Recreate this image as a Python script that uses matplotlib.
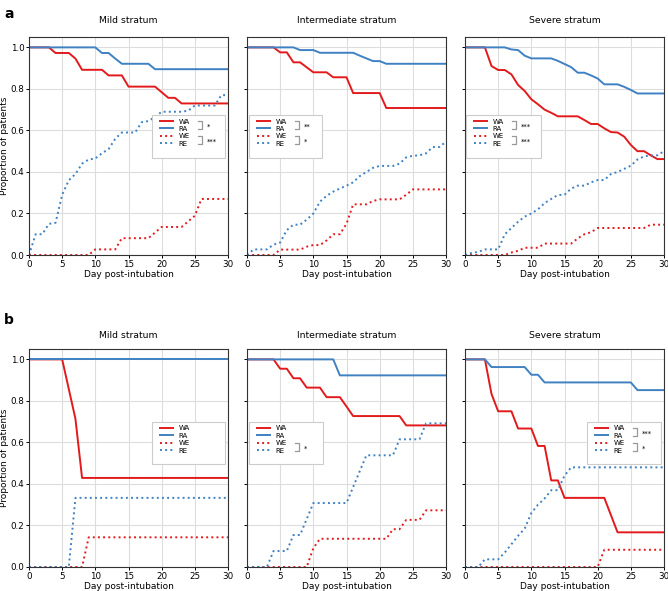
import matplotlib
matplotlib.use("Agg")
import matplotlib.pyplot as plt
from matplotlib.lines import Line2D
from matplotlib.patches import Rectangle

# day axis
days = list(range(31))

# --- panel a: mild ---
a_mild_wa = [1, 1, 1, 1, .973, .973, .973, .946, .892, .892, .892, .892, .865, .865, .865, .811,
             .811, .811, .811, .811, .784, .757, .757, .730, .730, .730, .730, .730, .730, .730, .730]
a_mild_ra = [1] * 11 + [.973, .973, .946] + [.921] * 5 + [.895] * 12
a_mild_we = [0] * 10 + [.027] * 4 + [.081] * 5 + [.108] + [.135] * 4 + [.162, .189] + [.270] * 5
a_mild_re = [0, .10, .10, .15, .155, .29, .36, .39, .44, .46, .465, .49, .51, .56, .59, .59,
             .59, .64, .645, .665, .69, .69, .69, .69, .695, .72, .72, .72, .72, .77, .77]

# --- panel a: intermediate ---
a_int_wa = [1] * 5 + [.976, .976, .928, .928, .904, .88, .88, .88, .856, .856, .856] + [.78] * 5 + [.708] * 10
a_int_ra = [1] * 8 + [.987] * 3 + [.974] * 6 + [.96, .947, .934, .934] + [.921] * 10
a_int_we = [0] * 5 + [.026] * 4 + [.04, .048, .048, .07, .10, .10, .15] + [.244] * 3 + [.26] + [.268] * 4 + [.29] + [.316] * 6
a_int_re = [0, .027, .027, .027, .05, .06, .12, .146, .146, .17, .20, .257, .285, .305, .32, .334,
            .35, .38, .40, .42, .429, .429, .429, .44, .47, .478, .48, .49, .52, .52, .546]

# --- panel a: severe ---
a_sev_wa = [1, 1, 1, 1, .91, .891, .891, .87, .819, .79, .75, .726, .70, .685, .668, .668,
            .668, .668, .65, .631, .631, .61, .592, .59, .57, .53, .50, .50, .48, .462, .462]
a_sev_ra = [1] * 7 + [.99, .987, .96, .947, .947, .947, .947, .935, .92, .905, .878, .878, .865,
                      .85, .822, .822, .822, .81, .795, .778] + [.778] * 4
a_sev_we = [0] * 7 + [.012, .02, .035, .035, .035, .055, .055, .055, .055, .055, .08, .10, .11, .13] + [.13] * 7 + [.146] * 3
a_sev_re = [0, .01, .015, .027, .027, .027, .10, .13, .16, .185, .20, .22, .25, .27, .289, .29,
            .32, .334, .334, .35, .361, .361, .39, .40, .415, .43, .46, .475, .48, .48, .50]

# --- panel b: mild ---
b_mild_wa = [1] * 6 + [.857, .714] + [.429] * 23
b_mild_ra = [1] * 31
b_mild_we = [0] * 9 + [.143] * 22
b_mild_re = [0] * 7 + [.333] * 24

# --- panel b: intermediate ---
b_int_wa = [1] * 5 + [.955, .955, .909, .909, .864, .864, .864, .818, .818, .818, .773] + [.727] * 8 + [.682] * 7
b_int_ra = [1] * 14 + [.923] * 17
b_int_we = [0] * 10 + [.091] + [.136] * 11 + [.182] * 2 + [.227] * 3 + [.273] * 4
b_int_re = [0] * 4 + [.077] * 3 + [.154] * 2 + [.231] + [.308] * 6 + [.385, .462] + [.538] * 5 + [.615] * 4 + [.692] * 4

# --- panel b: severe ---
b_sev_wa = [1] * 4 + [.833] + [.75] * 3 + [.667] * 3 + [.583] * 2 + [.417] * 2 + [.333] * 7 + [.25] + [.167] * 8
b_sev_ra = [1] * 4 + [.963] * 6 + [.926] * 2 + [.889] * 14 + [.852] * 5
b_sev_we = [0] * 21 + [.083] * 10
b_sev_re = [0] * 3 + [.037] * 3 + [.07, .11, .15, .185, .26, .30, .33, .37, .37, .44] + [.48] * 15

series_names = ["WA", "RA", "WE", "RE"]
strata = ["Mild stratum", "Intermediate stratum", "Severe stratum"]

# significance marks for (WA vs RA, WE vs RE), None = not shown
a_sig = [("*", "***"), ("**", "*"), ("***", "***")]
b_sig = [(None, None), (None, "*"), ("***", "*")]

RED = "#e31a1c"
BLUE = "#3f81c2"
styles = [(RED, "-"), (BLUE, "-"), (RED, ":"), (BLUE, ":")]

panels_a = [[a_mild_wa, a_mild_ra, a_mild_we, a_mild_re],
            [a_int_wa, a_int_ra, a_int_we, a_int_re],
            [a_sev_wa, a_sev_ra, a_sev_we, a_sev_re]]
panels_b = [[b_mild_wa, b_mild_ra, b_mild_we, b_mild_re],
            [b_int_wa, b_int_ra, b_int_we, b_int_re],
            [b_sev_wa, b_sev_ra, b_sev_we, b_sev_re]]

# figure layout in pixels
W, H = 668, 591
lefts = [29, 247, 465]
axw, axh = 199, 218
row_tops = [37, 349]

# legend frames in pixels relative to axes left / axes top: x0, x1, top, bottom
a_leg = [(123, 196, 78, 121), (2, 75, 78, 121), (1, 76, 78, 121)]
b_leg = [(123, 196, 73, 115), (2, 76, 73, 115), (122, 196, 73, 115)]

fig = plt.figure(figsize=(W / 100, H / 100), dpi=100)

legends = []
for r, (panels, legpos, sigs) in enumerate([(panels_a, a_leg, a_sig), (panels_b, b_leg, b_sig)]):
    for c in range(3):
        ax = fig.add_axes([lefts[c] / W, 1 - (row_tops[r] + axh) / H, axw / W, axh / H])
        for vals, name, (col, ls) in zip(panels[c], series_names, styles):
            ax.plot(days, vals, color=col, ls=ls, lw=1.4, label=name)
        ax.set_xlim(0, 30)
        ax.set_ylim(0, 1.05)
        ax.set_xticks([0, 5, 10, 15, 20, 25, 30])
        ax.set_yticks([0, 0.2, 0.4, 0.6, 0.8, 1.0])
        ax.grid(True, color="#dddddd", lw=0.8)
        ax.set_axisbelow(True)
        ax.tick_params(labelsize=6.3, length=2.5, width=0.7, pad=0.8)
        for sp in ax.spines.values():
            sp.set_color("#333333")
            sp.set_linewidth(0.8)
        if c == 0:
            ax.set_ylabel("Proportion of patients", fontsize=6.5, labelpad=1)
        else:
            ax.set_yticklabels([])
        ax.set_xlabel("Day post-intubation", fontsize=6.5, labelpad=1)
        ax.set_title(strata[c], fontsize=6.7, pad=10 if r == 0 else 8)

        # legend frame drawn by hand so it can hold the brackets
        x0, x1, top, bot = legpos[c]
        ax.add_patch(Rectangle((x0 / axw, 1 - bot / axh), (x1 - x0) / axw, (bot - top) / axh,
                               transform=ax.transAxes, facecolor="white", edgecolor="#cccccc",
                               lw=0.8, zorder=4, clip_on=False))
        leg = ax.legend(loc="upper left", bbox_to_anchor=((x0 + 8) / axw, 1 - (top + 3.5) / axh),
                        borderaxespad=0, borderpad=0, fontsize=5, labelspacing=0.2,
                        handlelength=1.9, handletextpad=0.8, frameon=False)
        leg.set_zorder(5)
        legends.append((ax, leg, sigs[c], x0))

fig.text(0.006, 0.988, "a", fontsize=10, fontweight="bold", va="top")
fig.text(0.006, 1 - 313 / H, "b", fontsize=10, fontweight="bold", va="top")

# brackets with significance stars inside the legend frames
fig.canvas.draw()
inv = fig.transFigure.inverted()
for ax, leg, sig, x0 in legends:
    axbox = ax.get_window_extent()
    ys = [t.get_window_extent().y0 + t.get_window_extent().height / 2 for t in leg.get_texts()]
    xb = axbox.x0 + x0 + 50
    for k, mark in enumerate(sig):
        if mark is None:
            continue
        ytop = ys[2 * k] + 0.5
        ybot = ys[2 * k + 1] - 0.5
        pts = inv.transform([(xb - 4.5, ytop), (xb, ytop), (xb, ybot), (xb - 4.5, ybot)])
        fig.add_artist(Line2D(pts[:, 0], pts[:, 1], color="#999999", lw=0.9, zorder=10))
        tx, ty = inv.transform((xb + 5, (ytop + ybot) / 2 - 3.5))
        fig.text(tx, ty, mark, fontsize=4.8, va="baseline", ha="left", zorder=10)

fig.savefig("out.png", dpi=100)
